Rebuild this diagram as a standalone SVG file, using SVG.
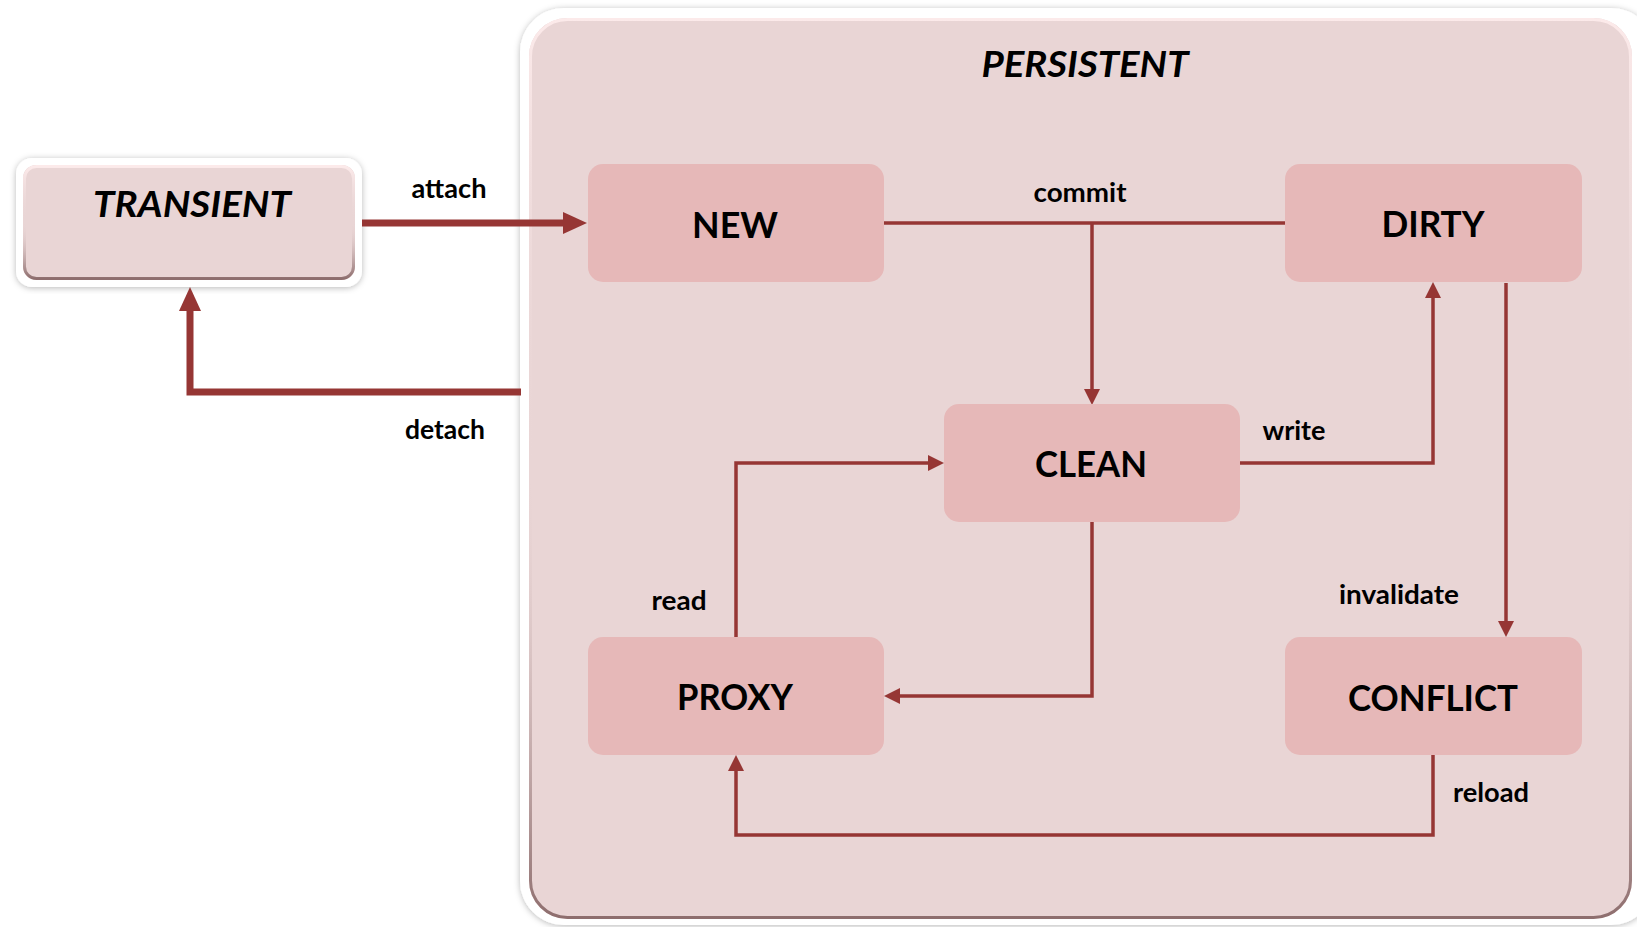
<svg xmlns="http://www.w3.org/2000/svg" width="1637" height="927" viewBox="0 0 1637 927">
  <defs>
    <style>
      .node { fill: #E6B8B8; }
      .nlabel { font-family: Lato, "Open Sans", "Liberation Sans", sans-serif; font-weight: bold; font-size: 37px; fill: #000; text-anchor: middle; }
      .elabel { font-family: Lato, "Open Sans", "Liberation Sans", sans-serif; font-weight: bold; font-size: 26px; fill: #000; text-anchor: middle; }
      .title { font-family: Lato, "Open Sans", "Liberation Sans", sans-serif; font-weight: bold; font-style: italic; font-size: 36px; fill: #000; text-anchor: middle; }
      .thin { fill: none; stroke: #963634; stroke-width: 3.5; marker-end: url(#arrowThin); }
      .thin-plain { fill: none; stroke: #963634; stroke-width: 3.5; }
      .thick { fill: none; stroke: #963634; stroke-width: 7; marker-end: url(#arrowThick); }
      .frame { fill: #FFFFFF; filter: url(#soft); }
      .panel { fill: #E9D5D5; }
      .bevel { fill: none; stroke: url(#bevelGrad); stroke-width: 3; }
    </style>
    <marker id="arrowThin" markerUnits="userSpaceOnUse" markerWidth="16" markerHeight="16" refX="0" refY="8" orient="auto" viewBox="0 0 16 16">
      <path d="M0,0 L16,8 L0,16 z" fill="#963634"/>
    </marker>
    <marker id="arrowThick" markerUnits="userSpaceOnUse" markerWidth="24" markerHeight="22" refX="0" refY="11" orient="auto" viewBox="0 0 24 22">
      <path d="M0,0 L24,11 L0,22 z" fill="#963634"/>
    </marker>
    <filter id="soft" x="-5%" y="-5%" width="110%" height="110%">
      <feDropShadow dx="0" dy="1" stdDeviation="3" flood-color="#000" flood-opacity="0.28"/>
    </filter>
    <linearGradient id="bevelGrad" x1="0" y1="0" x2="0" y2="1">
      <stop offset="0" stop-color="#FCEAEA"/>
      <stop offset="0.5" stop-color="#E9D5D5" stop-opacity="0"/>
      <stop offset="1" stop-color="#8E6E6E"/>
    </linearGradient>
  </defs>

  <rect width="1637" height="927" fill="#FFFFFF"/>

  <g id="persistent">
    <rect class="frame" x="520" y="8" width="1135" height="917" rx="44"/>
    <rect class="panel" x="529" y="18" width="1103" height="901" rx="38"/>
    <rect class="bevel" x="530.5" y="19.5" width="1100" height="898" rx="37"/>
    <text class="title" x="1085" y="77" textLength="207" lengthAdjust="spacingAndGlyphs">PERSISTENT</text>
  </g>

  <g id="transient">
    <rect class="frame" x="16" y="158" width="346" height="129" rx="16"/>
    <rect class="panel" x="23" y="165" width="332" height="115" rx="13"/>
    <rect class="bevel" x="24.5" y="166.5" width="329" height="112" rx="12"/>
    <text class="title" x="192" y="217" textLength="198" lengthAdjust="spacingAndGlyphs">TRANSIENT</text>
  </g>

  <g id="connectors">
    <path id="attach" class="thick" d="M362,223 H563"/>
    <path id="detach" class="thick" d="M521,392 H190 V311"/>
    <path id="commit-line" class="thin-plain" d="M884,223 H1285"/>
    <path id="commit" class="thin" d="M1092,223 V389"/>
    <path id="write" class="thin" d="M1240,463 H1433 V298"/>
    <path id="invalidate" class="thin" d="M1506,283 V621"/>
    <path id="read" class="thin" d="M736,637 V463 H928"/>
    <path id="clean-proxy" class="thin" d="M1092,522 V696 H900"/>
    <path id="reload" class="thin" d="M1433,755 V835 H736 V771"/>
  </g>

  <g id="edge-labels">
    <text class="elabel" x="449" y="198" textLength="75" lengthAdjust="spacingAndGlyphs">attach</text>
    <text class="elabel" x="445" y="439" textLength="80" lengthAdjust="spacingAndGlyphs">detach</text>
    <text class="elabel" x="1080" y="202" textLength="93" lengthAdjust="spacingAndGlyphs">commit</text>
    <text class="elabel" x="1294" y="440" textLength="63" lengthAdjust="spacingAndGlyphs">write</text>
    <text class="elabel" x="679" y="610" textLength="55" lengthAdjust="spacingAndGlyphs">read</text>
    <text class="elabel" x="1399" y="604" textLength="120" lengthAdjust="spacingAndGlyphs">invalidate</text>
    <text class="elabel" x="1491" y="802" textLength="76" lengthAdjust="spacingAndGlyphs">reload</text>
  </g>

  <g id="node-new">
    <rect class="node" x="588" y="164" width="296" height="118" rx="15"/>
    <text class="nlabel" x="735" y="238" textLength="86" lengthAdjust="spacingAndGlyphs">NEW</text>
  </g>
  <g id="node-dirty">
    <rect class="node" x="1285" y="164" width="297" height="118" rx="15"/>
    <text class="nlabel" x="1433" y="237" textLength="103" lengthAdjust="spacingAndGlyphs">DIRTY</text>
  </g>
  <g id="node-clean">
    <rect class="node" x="944" y="404" width="296" height="118" rx="15"/>
    <text class="nlabel" x="1091" y="477" textLength="112" lengthAdjust="spacingAndGlyphs">CLEAN</text>
  </g>
  <g id="node-proxy">
    <rect class="node" x="588" y="637" width="296" height="118" rx="15"/>
    <text class="nlabel" x="735" y="710" textLength="116" lengthAdjust="spacingAndGlyphs">PROXY</text>
  </g>
  <g id="node-conflict">
    <rect class="node" x="1285" y="637" width="297" height="118" rx="15"/>
    <text class="nlabel" x="1433" y="711" textLength="170" lengthAdjust="spacingAndGlyphs">CONFLICT</text>
  </g>
</svg>
